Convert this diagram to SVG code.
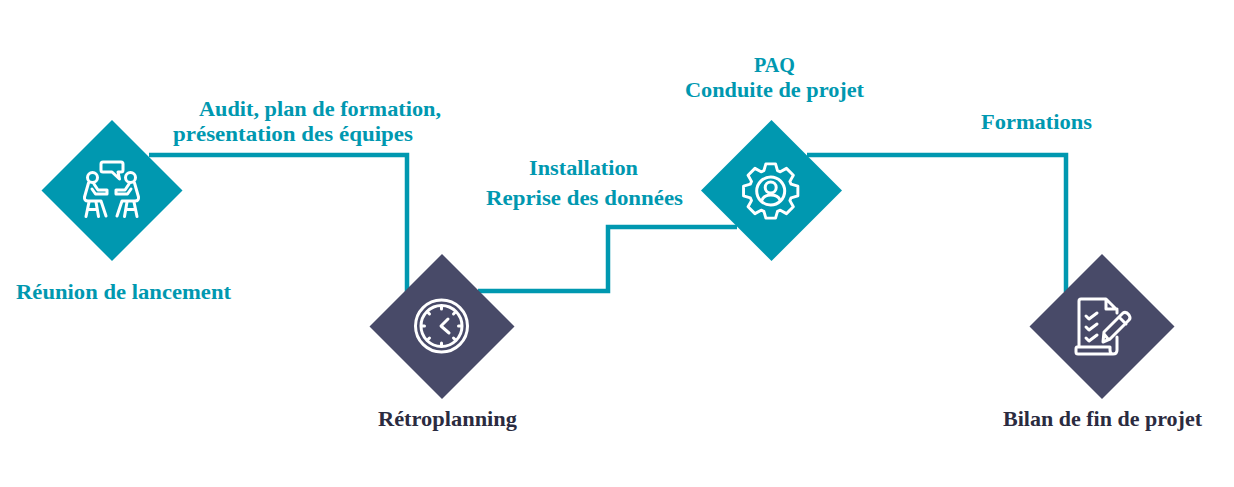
<svg xmlns="http://www.w3.org/2000/svg" width="1234" height="487" viewBox="0 0 1234 487">
<style>
.t{fill:#0098b0}.n{fill:#484a68}
.c{fill:none;stroke:#0098b0;stroke-width:4.5}
.i{fill:none;stroke:#fff;stroke-width:3;stroke-linecap:round;stroke-linejoin:round}
text{font-family:"Liberation Serif",serif;font-weight:700;font-size:22px;text-anchor:middle}
.lt{fill:#0098b0}.ln{fill:#2b2b40}
</style>
<defs>
<g id="person">
<circle cx="92.500" cy="177.500" r="5"/>
<path d="M88.500 183L84.500 197Q84 201 88 201H101L106 216"/>
<path d="M94 184L98 190H107V194H95.500L92 189"/>
<path d="M89 202L86 216.500M96 202L98.500 216.500M88 209.500H97"/>
</g>
</defs>
<rect width="1234" height="487" fill="#fff"/>
<g id="connectors">
<path class="c" d="M149 155H407V292"/>
<path class="c" d="M478 291H608V227H737"/>
<path class="c" d="M807 155H1066V292"/>
</g>
<g id="node-reunion">
<polygon class="t" points="112,120 182.500,190.500 112,261 41.500,190.500"/>
<g class="i">
<path d="M103 162H121Q123 162 123 164V170Q123 172 121 172H118L119.500 179L112 172H103Q101 172 101 170V164Q101 162 103 162Z"/>
<use href="#person"/>
<use href="#person" transform="matrix(-1 0 0 1 223 0)"/>
</g>
<text class="lt" x="123.500" y="299" textLength="215" lengthAdjust="spacingAndGlyphs">Réunion de lancement</text>
</g>
<g id="node-retroplanning">
<polygon class="n" points="442,254 514.500,326.500 442,399 369.500,326.500"/>
<g class="i">
<circle cx="441.500" cy="326" r="26"/>
<circle cx="441.500" cy="326" r="20.500"/>
<path d="M448 319L441 326L449 333M441.500 306V309M441.500 343V346M421.500 326H424.500M458.500 326H461.500M427.500 312L429.500 314M455.500 312L453.500 314M427.500 340L429.500 338M455.500 340L453.500 338"/>
</g>
<text class="ln" x="447.500" y="426" textLength="139" lengthAdjust="spacingAndGlyphs">Rétroplanning</text>
</g>
<g id="node-paq">
<polygon class="t" points="771.500,120 842,190.500 771.500,261 701,190.500"/>
<g class="i">
<polygon transform="translate(770.700 191) scale(.97)" points="-7,-21 -5,-28 5,-28 7,-21 9.900,-19.800 16.260,-23.340 23.340,-16.260 19.800,-9.900 21,-7 28,-5 28,5 21,7 19.800,9.900 23.340,16.260 16.260,23.340 9.900,19.800 7,21 5,28 -5,28 -7,21 -9.900,19.800 -16.260,23.340 -23.340,16.260 -19.800,9.900 -21,7 -28,5 -28,-5 -21,-7 -19.800,-9.900 -23.340,-16.260 -16.260,-23.340 -9.900,-19.800"/>
<circle cx="770.700" cy="191" r="14"/>
<circle cx="770.700" cy="187.500" r="5.500"/>
<path d="M762 200Q764 195 770.700 195Q778 195 780 200"/>
</g>
<text class="lt" x="774.500" y="72" textLength="41" lengthAdjust="spacingAndGlyphs">PAQ</text>
<text class="lt" x="774.500" y="97" textLength="179" lengthAdjust="spacingAndGlyphs">Conduite de projet</text>
</g>
<g id="node-bilan">
<polygon class="n" points="1102,254 1174.500,326.500 1102,399 1029.500,326.500"/>
<g class="i">
<path d="M1079 347V301Q1079 299 1081 299H1106L1117 310V313M1106 299V309H1117M1117 337V350Q1117 354 1113 354M1077 347H1110V350Q1110 354 1113 354H1078Q1076 354 1076 352V349Q1076 347 1077 347"/>
<path d="M1086 316L1089 319L1097 313M1086 327L1089 330L1097 324M1086 338L1089 341L1097 335"/>
<path d="M1104 332L1123 313Q1126 311 1129 315Q1131 318 1129 320L1110 339L1103 342ZM1119 317L1126 324M1104 334L1108 339"/>
</g>
<text class="ln" x="1102.500" y="426" textLength="199" lengthAdjust="spacingAndGlyphs">Bilan de fin de projet</text>
</g>
<g id="labels">
<text class="lt" x="320" y="116" textLength="242" lengthAdjust="spacingAndGlyphs">Audit, plan de formation,</text>
<text class="lt" x="293" y="141" textLength="240" lengthAdjust="spacingAndGlyphs">présentation des équipes</text>
<text class="lt" x="583.500" y="175" textLength="109" lengthAdjust="spacingAndGlyphs">Installation</text>
<text class="lt" x="584.500" y="205" textLength="197" lengthAdjust="spacingAndGlyphs">Reprise des données</text>
<text class="lt" x="1036.500" y="129" textLength="111" lengthAdjust="spacingAndGlyphs">Formations</text>
</g>
</svg>
